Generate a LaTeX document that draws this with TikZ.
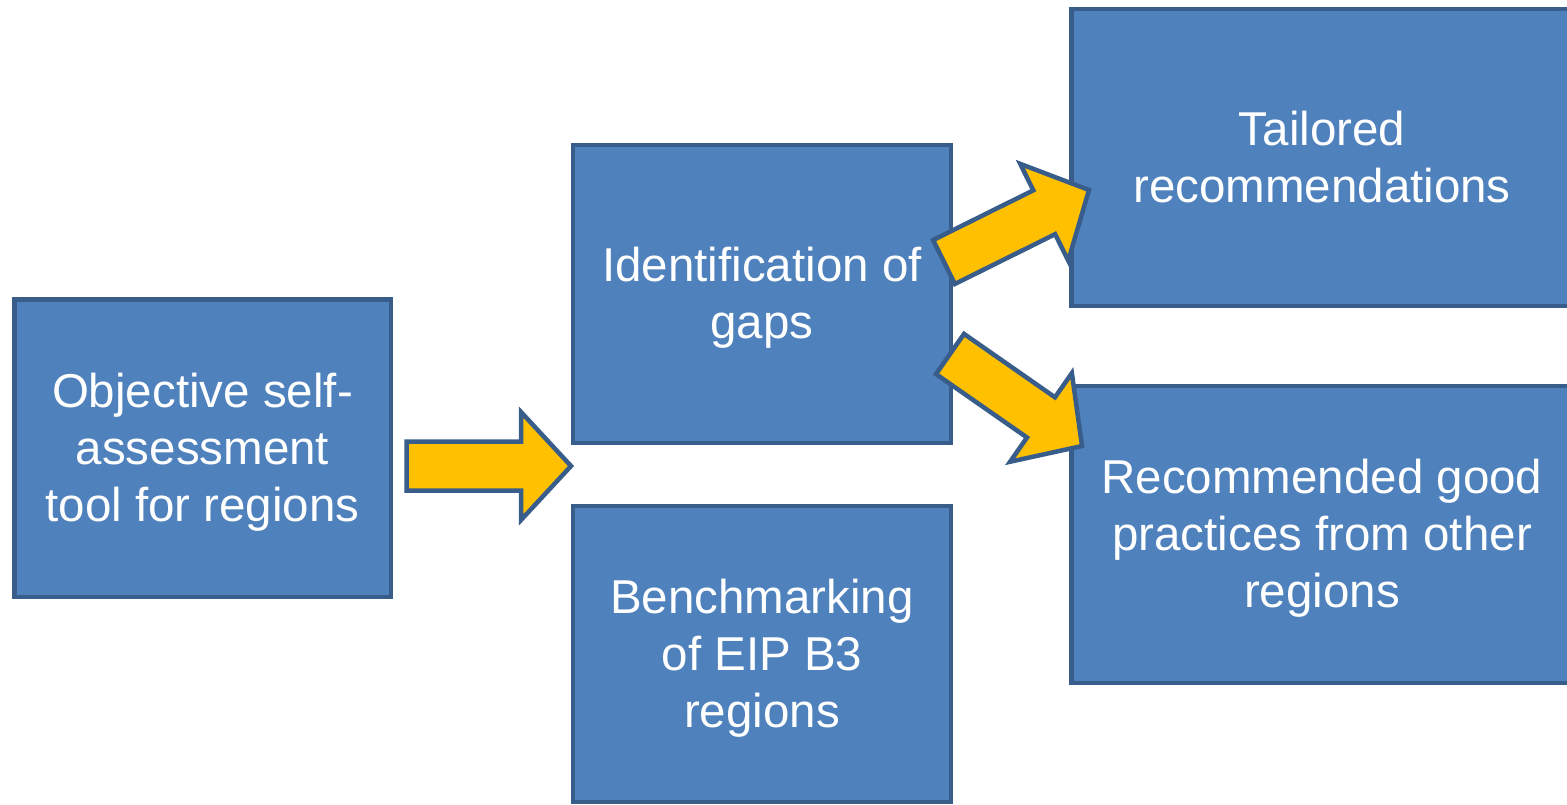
\documentclass[tikz,border=0pt]{standalone}
\usepackage{fontspec}
\setmainfont{Liberation Sans}
\usetikzlibrary{calc}

\definecolor{boxblue}{HTML}{4F81BD}
\definecolor{edgeblue}{HTML}{385D8A}
\definecolor{arrowgold}{HTML}{FFC000}

% centred lines of box text, set a little below the box centre
\newcommand\boxlines[1]{%
  \raisebox{-2.5pt}[\height][\depth]{\begin{tabular}{@{}c@{}}#1\end{tabular}}}

% block arrow from tail centre #1 to tip #2
\newcommand\blockarrow[2]{%
  \draw[blockarr]
    ($(#1)!12.25pt!-90:(#2)$)
    -- ($(#2)!25pt!(#1)!12.25pt!-90:(#2)$)
    -- ($(#2)!25pt!(#1)!27pt!-90:(#2)$)
    -- (#2)
    -- ($(#2)!25pt!(#1)!27pt!90:(#2)$)
    -- ($(#2)!25pt!(#1)!12.25pt!90:(#2)$)
    -- ($(#1)!12.25pt!90:(#2)$)
    -- cycle;}

\begin{document}
\begin{tikzpicture}[x=0.5pt, y=-0.5pt,
  box/.style={rectangle, draw=edgeblue, fill=boxblue, line width=2.25pt,
    text=white, inner sep=0pt, outer sep=0pt,
    font=\fontsize{23.75pt}{28.5pt}\selectfont},
  blockarr/.style={draw=edgeblue, fill=arrowgold, line width=2.25pt}]
\clip (0,0) rectangle (1567,804);

\node[box, minimum width=188.25pt, minimum height=148.75pt] (obj) at (202.5,448)
  {\boxlines{Objective self-\\assessment\\tool for regions}};
\node[box, minimum width=189pt, minimum height=149pt] (gaps) at (762,294)
  {\boxlines{Identification of\\gaps}};
\node[box, minimum width=189pt, minimum height=148pt] (bench) at (762,654)
  {\boxlines{Benchmarking\\of EIP B3\\regions}};
\node[box, minimum width=250.75pt, minimum height=148.5pt] (tail) at (1322,157.5)
  {\boxlines{Tailored\\recommendations}};
\node[box, minimum width=250.75pt, minimum height=148.5pt] (good) at (1322,534.5)
  {\boxlines{Recommended good\\practices from other\\regions}};

% arrow ends
\coordinate (s1) at (406.5,466);
\coordinate (t1) at (571,466);
\coordinate (s2) at (944,262);
\coordinate (t2) at (1089,190);
\coordinate (s3) at (950,354);
\coordinate (t3) at (1082,446);

\blockarrow{s1}{t1}
\blockarrow{s2}{t2}
\blockarrow{s3}{t3}
\end{tikzpicture}
\end{document}
